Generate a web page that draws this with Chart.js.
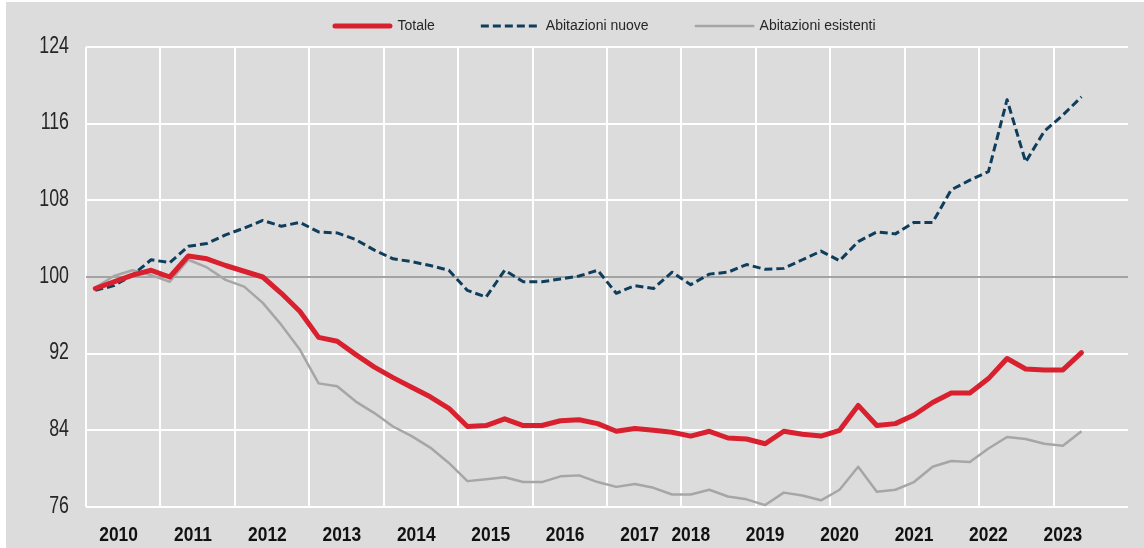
<!DOCTYPE html>
<html lang="it">
<head>
<meta charset="utf-8">
<title>Prezzi delle abitazioni</title>
<script src="https://cdn.jsdelivr.net/npm/chart.js@4.4.1/dist/chart.umd.min.js"></script>
<style>
  html, body { margin: 0; padding: 0; background: #ffffff; }
  #wrap { width: 1144px; height: 548px; }
  canvas { display: block; }
</style>
</head>
<body>
<div id="wrap"><canvas id="chart" width="1144" height="548"></canvas></div>
<script>
// Anni coperti dall'asse (dati trimestrali, 4 categorie per anno)
const years = [2010, 2011, 2012, 2013, 2014, 2015, 2016, 2017, 2018, 2019, 2020, 2021, 2022, 2023];
const quarters = ['T1', 'T2', 'T3', 'T4'];
const categories = years.flatMap(y => quarters.map(q => y + ' ' + q));

// Indici dei prezzi (2010 = 100), dal 2010 T1 al 2023 T2
const totale = [
  98.8, 99.5, 100.2, 100.7, 100.0, 102.2, 101.9, 101.2, 100.6, 100.0,
  98.3, 96.4, 93.7, 93.3, 91.9, 90.6, 89.5, 88.5, 87.5, 86.3,
  84.4, 84.5, 85.2, 84.5, 84.5, 85.0, 85.1, 84.7, 83.9, 84.2,
  84.0, 83.8, 83.4, 83.9, 83.2, 83.1, 82.6, 83.9, 83.6, 83.4,
  84.0, 86.6, 84.5, 84.7, 85.6, 86.9, 87.9, 87.9, 89.4, 91.5,
  90.4, 90.3, 90.3, 92.1
];
const nuove = [
  98.6, 99.1, 100.2, 101.8, 101.5, 103.2, 103.5, 104.4, 105.1, 105.9,
  105.3, 105.7, 104.7, 104.6, 103.9, 102.8, 101.9, 101.6, 101.2, 100.7,
  98.6, 97.9, 100.7, 99.5, 99.5, 99.8, 100.1, 100.7, 98.3, 99.1,
  98.8, 100.5, 99.2, 100.3, 100.5, 101.3, 100.8, 100.9, 101.8, 102.7,
  101.7, 103.7, 104.7, 104.5, 105.7, 105.7, 109.1, 110.1, 111.0, 118.5,
  112.0, 115.2, 116.9, 118.8
];
const esistenti = [
  98.9, 100.1, 100.7, 100.2, 99.5, 101.8, 101.0, 99.7, 99.0, 97.3,
  95.0, 92.4, 88.9, 88.6, 87.0, 85.8, 84.4, 83.4, 82.2, 80.6,
  78.7, 78.9, 79.1, 78.6, 78.6, 79.2, 79.3, 78.6, 78.1, 78.4,
  78.0, 77.3, 77.3, 77.8, 77.1, 76.8, 76.2, 77.5, 77.2, 76.7,
  77.8, 80.2, 77.6, 77.8, 78.6, 80.2, 80.8, 80.7, 82.1, 83.3,
  83.1, 82.6, 82.4, 83.9
];

// Scala verticale
const yMin = 76, yMax = 124, yStep = 8, baseLevel = 100;

const SANS = '"Liberation Sans", Arial, sans-serif';

// Etichetta dell'anno: fino al 2017 cade poco dopo il primo trimestre, poi sul primo
function yearLabelAt(index) {
  const year = years[Math.floor(index / 4)];
  const q = index % 4;
  if (year < 2018) return q === 1 ? { text: String(year), shift: 0.25 } : null;
  return q === 0 ? { text: String(year), shift: 0 } : null;
}

// Sfondo grigio della figura con il sottile margine bianco a sinistra e in alto
const backgroundPlugin = {
  id: 'figureBackground',
  beforeDraw(chart) {
    const { ctx, width, height } = chart;
    ctx.save();
    ctx.fillStyle = '#ffffff';
    ctx.fillRect(0, 0, width, height);
    ctx.fillStyle = '#dcdcdc';
    ctx.fillRect(6, 2, width - 6, height - 2);
    ctx.restore();
  }
};

// Etichette degli assi in carattere stretto (compressione orizzontale del testo)
const narrowTicksPlugin = {
  id: 'narrowTicks',
  afterDraw(chart) {
    const { ctx, chartArea } = chart;
    const xs = chart.scales.x, ys = chart.scales.y;
    ctx.save();

    ctx.fillStyle = '#262626';
    ctx.font = '24px ' + SANS;
    ctx.textAlign = 'right';
    ctx.textBaseline = 'middle';
    ys.ticks.forEach((t, i) => {
      const y = ys.getPixelForTick(i);
      ctx.save();
      ctx.translate(chartArea.left - 17, y - 1);
      ctx.scale(0.74, 1);
      ctx.fillText(String(t.value), 0, 0);
      ctx.restore();
    });

    ctx.fillStyle = '#111111';
    ctx.font = 'bold 20px ' + SANS;
    ctx.textAlign = 'center';
    xs.ticks.forEach((t, i) => {
      const lab = yearLabelAt(i);
      if (!lab) return;
      const x = xs.getPixelForValue(i + lab.shift);
      ctx.save();
      ctx.translate(x, chartArea.bottom + 28);
      ctx.scale(0.87, 1);
      ctx.fillText(lab.text, 0, 0);
      ctx.restore();
    });
    ctx.restore();
  }
};

// Legenda orizzontale sopra l'area del grafico
const topLegendPlugin = {
  id: 'topLegend',
  afterDraw(chart) {
    const { ctx, chartArea } = chart;
    const lineLen = 60, textGap = 5, itemGap = 46, yLine = 26;
    ctx.save();
    ctx.font = '14px ' + SANS;
    const items = chart.data.datasets.map(ds => ({
      ds, w: lineLen + textGap + ctx.measureText(ds.label).width
    }));
    const total = items.reduce((s, it) => s + it.w, 0) + itemGap * (items.length - 1);
    let x = (chartArea.left + chartArea.right) / 2 - total / 2 - 3;
    items.forEach(({ ds, w }) => {
      ctx.beginPath();
      ctx.strokeStyle = ds.borderColor;
      ctx.lineWidth = ds.borderWidth;
      ctx.lineCap = ds.borderDash && ds.borderDash.length ? 'butt' : 'round';
      ctx.setLineDash(ds.borderDash || []);
      const inset = ctx.lineCap === 'round' ? ds.borderWidth / 2 : 0;
      ctx.moveTo(x + inset, yLine);
      ctx.lineTo(x + lineLen - inset, yLine);
      ctx.stroke();
      ctx.setLineDash([]);
      ctx.fillStyle = '#262626';
      ctx.textBaseline = 'middle';
      ctx.textAlign = 'left';
      ctx.fillText(ds.label, x + lineLen + textGap, yLine);
      x += w + itemGap;
    });
    ctx.restore();
  }
};

new Chart(document.getElementById('chart'), {
  type: 'line',
  data: {
    labels: categories,
    datasets: [
      {
        label: 'Totale',
        data: totale,
        borderColor: '#d8202f',
        borderWidth: 5,
        borderJoinStyle: 'round',
        borderCapStyle: 'round',
        order: 0
      },
      {
        label: 'Abitazioni nuove',
        data: nuove,
        borderColor: '#0f3d5c',
        borderWidth: 3,
        borderDash: [8, 4],
        borderJoinStyle: 'round',
        order: 1
      },
      {
        label: 'Abitazioni esistenti',
        data: esistenti,
        borderColor: '#a6a6a6',
        borderWidth: 2.5,
        borderJoinStyle: 'round',
        order: 2
      }
    ]
  },
  options: {
    responsive: false,
    devicePixelRatio: 1,
    animation: false,
    layout: { padding: { left: 0, right: 16, top: 47, bottom: 0 } },
    elements: {
      point: { radius: 0, hoverRadius: 0 },
      line: { tension: 0, fill: false }
    },
    plugins: {
      legend: { display: false },
      tooltip: { enabled: false }
    },
    scales: {
      x: {
        type: 'category',
        offset: true,
        afterFit(scale) { scale.height = 41; },
        border: { display: false },
        grid: {
          offset: true,
          drawTicks: false,
          lineWidth: 2,
          color: ctx => (ctx.index % 4 === 0 ? '#ffffff' : 'rgba(0,0,0,0)')
        },
        ticks: {
          display: false,
          autoSkip: false,
          maxRotation: 0,
          minRotation: 0
        }
      },
      y: {
        min: yMin,
        max: yMax,
        afterFit(scale) { scale.width = 86; },
        border: { display: false },
        grid: {
          drawTicks: false,
          lineWidth: 2,
          color: ctx => (ctx.tick && ctx.tick.value === baseLevel ? '#a3a3a3' : '#ffffff')
        },
        ticks: {
          display: false,
          stepSize: yStep
        }
      }
    }
  },
  plugins: [backgroundPlugin, narrowTicksPlugin, topLegendPlugin]
});
</script>
</body>
</html>
